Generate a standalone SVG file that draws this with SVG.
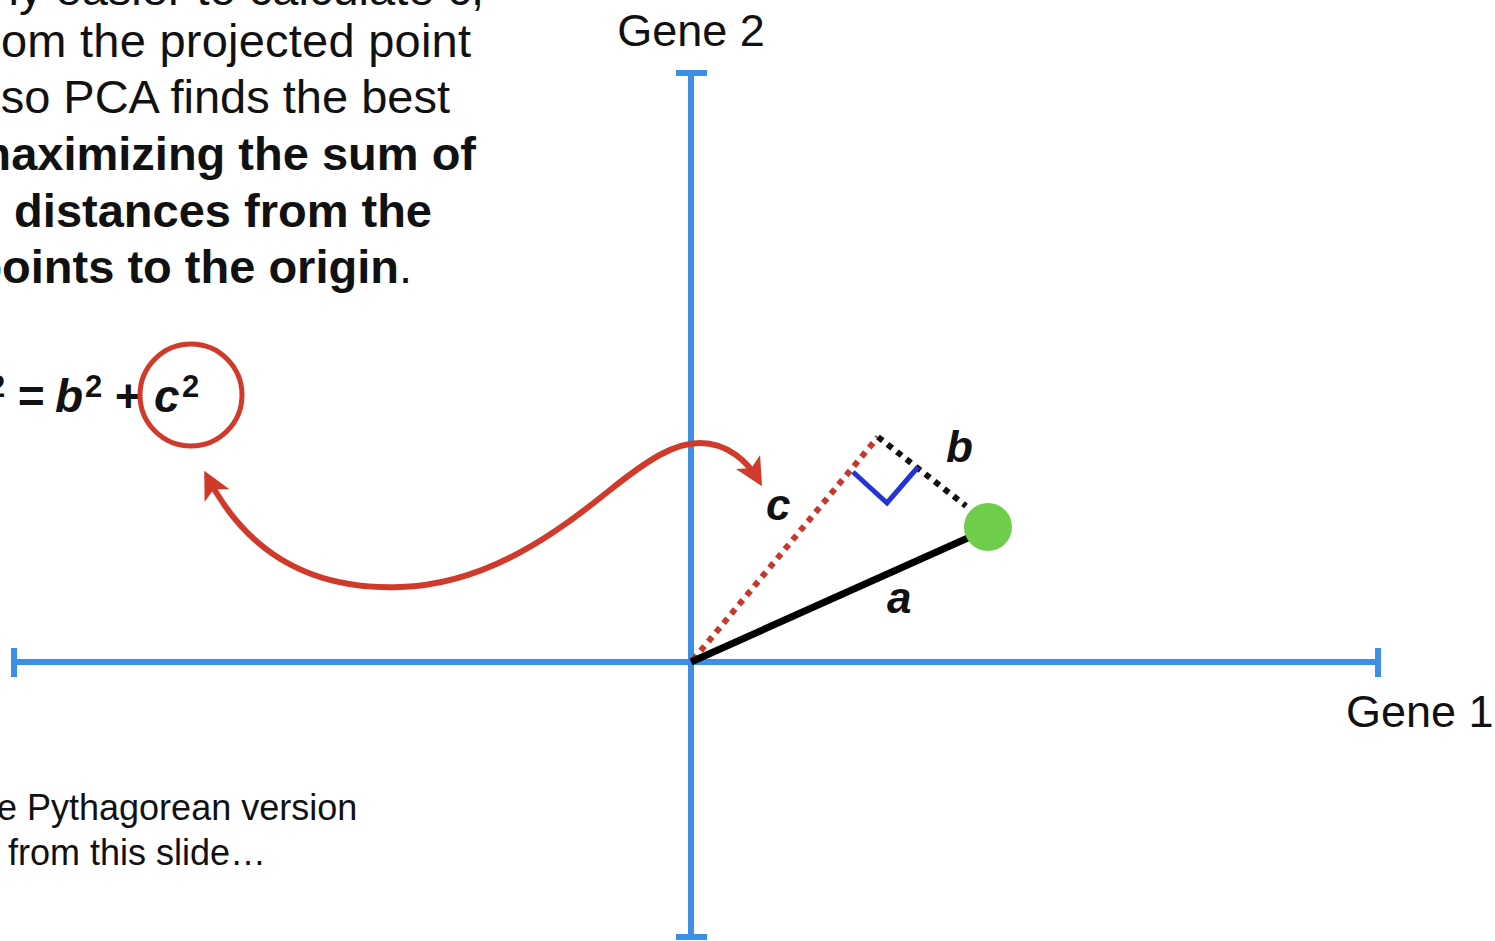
<svg xmlns="http://www.w3.org/2000/svg" width="1495" height="941" viewBox="0 0 1495 941">
<style>
.body{font-family:"Liberation Sans",Arial,sans-serif;font-size:47px;fill:#111}
.bold{font-weight:bold}
.math{font-family:"Liberation Sans",Arial,sans-serif;font-weight:bold;font-style:italic;fill:#111}
.sup{font-family:"Liberation Sans",Arial,sans-serif;font-weight:bold;font-size:31px;fill:#111}
.axis{stroke:#3b8fe6;stroke-width:6;fill:none}
.gene{font-family:"Liberation Sans",Arial,sans-serif;font-size:45px;fill:#111}
.note{font-family:"Liberation Sans",Arial,sans-serif;font-size:36px;fill:#111}
</style>
<defs>
<marker id="redhead" viewBox="-26 -16 34 32" refX="0" refY="0" markerUnits="userSpaceOnUse" markerWidth="34" markerHeight="32" orient="auto-start-reverse">
<path d="M6,0 L-22,-14 L-15,0 L-22,14 Z" fill="#d03a2b"/>
</marker>
</defs>
<rect width="1495" height="941" fill="#ffffff"/>

<g id="paragraph">
<text class="body" x="484" y="5" text-anchor="end">ly easier to calculate c,</text>
<text class="body" x="471" y="57" text-anchor="end" textLength="470" lengthAdjust="spacing">om the projected point</text>
<text class="body" x="450" y="113" text-anchor="end">so PCA finds the best</text>
<text class="body bold" x="476" y="170" text-anchor="end">maximizing the sum of</text>
<text class="body bold" x="432" y="227" text-anchor="end">squared distances from the</text>
<text class="body bold" x="412" y="283" text-anchor="end">points to the origin<tspan font-weight="normal">.</tspan></text>
</g>

<g id="formula">
<text class="sup" x="-12" y="397">2</text>
<text class="math" x="17" y="412" font-size="46" font-style="normal">=</text>
<text class="math" x="55" y="412" font-size="46">b</text>
<text class="sup" x="85" y="397">2</text>
<text class="math" x="114" y="412" font-size="46" font-style="normal">+</text>
<text class="math" x="154" y="412" font-size="46">c</text>
<text class="sup" x="182" y="397">2</text>
<circle cx="191" cy="395" r="51" fill="none" stroke="#d03a2b" stroke-width="5"/>
</g>

<g id="axes">
<line class="axis" x1="691" y1="73" x2="691" y2="938"/>
<line class="axis" x1="676" y1="73" x2="707" y2="73"/>
<line class="axis" x1="676" y1="937" x2="707" y2="937"/>
<line class="axis" x1="14" y1="662" x2="1378" y2="662"/>
<line class="axis" x1="14" y1="648" x2="14" y2="677"/>
<line class="axis" x1="1378" y1="648" x2="1378" y2="677"/>
<text class="gene" x="691" y="46" text-anchor="middle">Gene 2</text>
<text class="gene" x="1346" y="727" font-size="44">Gene 1</text>
</g>

<g id="connectors">
<line x1="693" y1="660" x2="878" y2="437" stroke="#c8372b" stroke-width="6" stroke-dasharray="6 6"/>
<line x1="878" y1="437" x2="966" y2="506" stroke="#111" stroke-width="6" stroke-dasharray="6 6"/>
<line x1="691" y1="662" x2="970" y2="537" stroke="#000" stroke-width="7"/>
<polyline points="853,472 887,503 918,467" fill="none" stroke="#2433d8" stroke-width="5"/>
<path d="M207,476 C250,560 320,590 400,587 C490,584 560,530 610,490 C650,458 675,443 700,443 C728,443 748,462 759,481" fill="none" stroke="#d03a2b" stroke-width="6" marker-start="url(#redhead)" marker-end="url(#redhead)"/>
</g>

<g id="point">
<circle cx="988" cy="527" r="24" fill="#6ecd4b"/>
</g>

<g id="labels">
<text class="math" x="766" y="520" font-size="44">c</text>
<text class="math" x="946" y="462" font-size="44">b</text>
<text class="math" x="887" y="613" font-size="44">a</text>
</g>

<g id="note">
<text class="note" x="-3" y="820">e Pythagorean version</text>
<text class="note" x="8" y="865">from this slide…</text>
</g>
</svg>
